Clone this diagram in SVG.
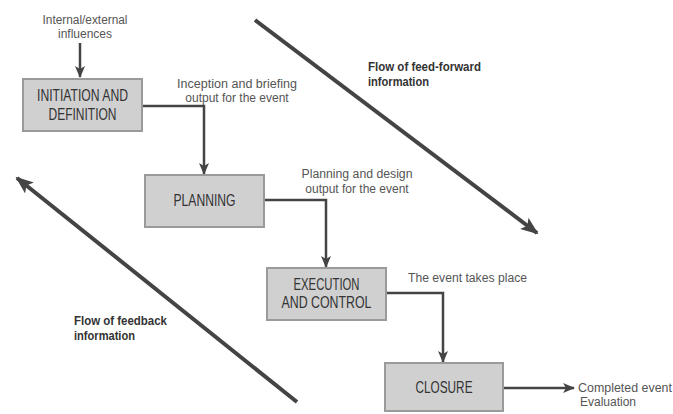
<svg xmlns="http://www.w3.org/2000/svg" width="673" height="414" viewBox="0 0 673 414">
<style>
.box{fill:#d0d0d0;stroke:#9a9a9a;stroke-width:2}
.bt{font-family:"Liberation Sans",Arial,sans-serif;font-size:17px;fill:#333;text-anchor:middle}
.lbl{font-family:"Liberation Sans",Arial,sans-serif;font-size:12px;fill:#555}
.flow{font-family:"Liberation Sans",Arial,sans-serif;font-size:13px;font-weight:bold;fill:#333}
.con{fill:none;stroke:#444;stroke-width:2.5}
.big{fill:none;stroke:#444;stroke-width:4}
</style>
<defs>
<marker id="ah" markerUnits="userSpaceOnUse" markerWidth="12" markerHeight="10" refX="11" refY="5" orient="auto"><path d="M0,0 L12,5 L0,10 L3,5 Z" fill="#444"/></marker>
<marker id="bh" markerUnits="userSpaceOnUse" markerWidth="18" markerHeight="14" refX="16" refY="7" orient="auto"><path d="M0,0 L18,7 L0,14 L4,7 Z" fill="#444"/></marker>
</defs>
<g id="connectors">
<line class="con" x1="80" y1="43" x2="80" y2="77" marker-end="url(#ah)"/>
<polyline class="con" points="142,106 204,106 204,174" marker-end="url(#ah)"/>
<polyline class="con" points="264,200 326,200 326,267" marker-end="url(#ah)"/>
<polyline class="con" points="386,293 443,293 443,362" marker-end="url(#ah)"/>
<line class="con" x1="503" y1="388" x2="574" y2="388" marker-end="url(#ah)"/>
<line class="big" x1="255" y1="20" x2="537" y2="233" marker-end="url(#bh)"/>
<line class="big" x1="297" y1="402" x2="17" y2="178" marker-end="url(#bh)"/>
</g>
<g id="initiation">
<rect class="box" x="23" y="79" width="119" height="52"/>
<text class="bt" x="82.5" y="101" textLength="91" lengthAdjust="spacingAndGlyphs">INITIATION AND</text>
<text class="bt" x="82.5" y="120" textLength="68" lengthAdjust="spacingAndGlyphs">DEFINITION</text>
</g>
<g id="planning">
<rect class="box" x="145" y="175" width="119" height="52"/>
<text class="bt" x="204.5" y="206" textLength="62" lengthAdjust="spacingAndGlyphs">PLANNING</text>
</g>
<g id="execution">
<rect class="box" x="267" y="268" width="119" height="52"/>
<text class="bt" x="326.5" y="290" textLength="66" lengthAdjust="spacingAndGlyphs">EXECUTION</text>
<text class="bt" x="326.5" y="308" textLength="90" lengthAdjust="spacingAndGlyphs">AND CONTROL</text>
</g>
<g id="closure">
<rect class="box" x="385" y="363" width="118" height="48"/>
<text class="bt" x="444" y="393" textLength="57" lengthAdjust="spacingAndGlyphs">CLOSURE</text>
</g>
<g id="labels">
<text class="lbl" x="85" y="24" text-anchor="middle" textLength="85" lengthAdjust="spacingAndGlyphs">Internal/external</text>
<text class="lbl" x="85" y="38" text-anchor="middle">influences</text>
<text class="lbl" x="237" y="88" text-anchor="middle" textLength="120" lengthAdjust="spacingAndGlyphs">Inception and briefing</text>
<text class="lbl" x="237" y="102" text-anchor="middle">output for the event</text>
<text class="lbl" x="357" y="178" text-anchor="middle" textLength="111" lengthAdjust="spacingAndGlyphs">Planning and design</text>
<text class="lbl" x="357" y="193" text-anchor="middle">output for the event</text>
<text class="lbl" x="408" y="282" textLength="119" lengthAdjust="spacingAndGlyphs">The event takes place</text>
<text class="lbl" x="578" y="392" textLength="94" lengthAdjust="spacingAndGlyphs">Completed event</text>
<text class="lbl" x="580" y="406">Evaluation</text>
<text class="flow" x="368" y="71" textLength="113" lengthAdjust="spacingAndGlyphs">Flow of feed-forward</text>
<text class="flow" x="368" y="86" textLength="61" lengthAdjust="spacingAndGlyphs">information</text>
<text class="flow" x="74" y="325" textLength="93" lengthAdjust="spacingAndGlyphs">Flow of feedback</text>
<text class="flow" x="74" y="340" textLength="61" lengthAdjust="spacingAndGlyphs">information</text>
</g>
</svg>
